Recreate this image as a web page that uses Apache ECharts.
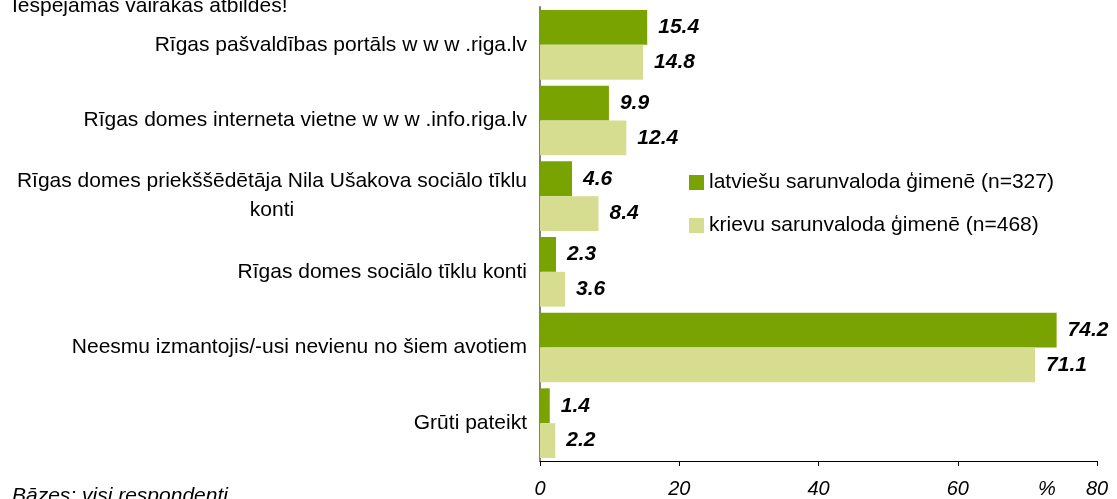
<!DOCTYPE html>
<html>
<head>
<meta charset="utf-8">
<script src="https://cdn.jsdelivr.net/npm/echarts@6/dist/echarts.min.js"></script>
<style>
html,body{margin:0;padding:0;background:#fff;}
#chart{width:1117px;height:499px;}
</style>
</head>
<body>
<div id="chart"></div>
<script>
const categories = [
  "Rīgas pašvaldības portāls w w w .riga.lv",
  "Rīgas domes interneta vietne w w w .info.riga.lv",
  "Rīgas domes priekššēdētāja Nila Ušakova sociālo tīklu\nkonti",
  "Rīgas domes sociālo tīklu konti",
  "Neesmu izmantojis/-usi nevienu no šiem avotiem",
  "Grūti pateikt"
];
const seriesNames = ["latviešu sarunvaloda ģimenē (n=327)", "krievu sarunvaloda ģimenē (n=468)"];
const latvianValues = [15.4, 9.9, 4.6, 2.3, 74.2, 1.4];
const russianValues = [14.8, 12.4, 8.4, 3.6, 71.1, 2.2];
const xTicks = [0, 20, 40, 60, 80];
const titleText = "Iespējamas vairākas atbildes!";
const baseText = "Bāzes: visi respondenti";
const unitText = "%";

const FONT = "'Liberation Sans', Arial, sans-serif";
const chart = echarts.init(document.getElementById('chart'), null, {renderer: 'canvas'});

const labelStyle = {
  show: true, position: 'right', distance: 11,
  fontFamily: FONT, fontSize: 21, fontStyle: 'italic', fontWeight: 'bold', color: '#000',
  formatter: p => Number(p.value).toFixed(1)
};

chart.setOption({
  animation: false,
  backgroundColor: '#fff',
  grid: {left: 540, right: 20, top: 7, bottom: 38, containLabel: false},
  legend: {
    orient: 'vertical', left: 689, top: 172, padding: 0,
    itemWidth: 15, itemHeight: 15, itemGap: 22, icon: 'rect',
    textStyle: {fontFamily: FONT, fontSize: 21, color: '#000'},
    data: seriesNames
  },
  xAxis: {
    type: 'value', min: xTicks[0], max: xTicks[xTicks.length - 1], interval: 20,
    splitLine: {show: false},
    axisLine: {show: true, lineStyle: {color: '#000', width: 1}},
    axisTick: {show: true, length: 5, lineStyle: {color: '#000'}},
    axisLabel: {fontFamily: FONT, fontSize: 20, fontStyle: 'italic', color: '#000', margin: 18}
  },
  yAxis: {
    type: 'category', inverse: true, data: categories,
    axisLine: {show: true, lineStyle: {color: '#808080', width: 2}},
    axisTick: {show: false},
    axisLabel: {
      fontFamily: FONT, fontSize: 21, color: '#000', margin: 13, lineHeight: 29,
      formatter: v => {
        const parts = v.split('\n');
        if (parts.length > 1) return parts[0] + '\n{c|' + parts[1] + '}';
        return v;
      },
      rich: {c: {fontFamily: FONT, fontSize: 21, color: '#000', align: 'center', lineHeight: 29}}
    }
  },
  series: [
    {name: seriesNames[0], type: 'bar', data: latvianValues, itemStyle: {color: '#79a300'},
     barGap: '0%', barCategoryGap: '8%', label: labelStyle},
    {name: seriesNames[1], type: 'bar', data: russianValues, itemStyle: {color: '#d6dc90'},
     barGap: '0%', barCategoryGap: '8%', label: labelStyle}
  ],
  graphic: [
    {type: 'text', left: 12, top: -4, style: {text: titleText, font: "21px " + FONT, fill: '#000'}},
    {type: 'text', left: 12, top: 486, style: {text: baseText, font: "italic 21px " + FONT, fill: '#000'}},
    {type: 'text', left: 1038, top: 479, style: {text: unitText, font: "italic 20px " + FONT, fill: '#000'}}
  ]
});
</script>
</body>
</html>
